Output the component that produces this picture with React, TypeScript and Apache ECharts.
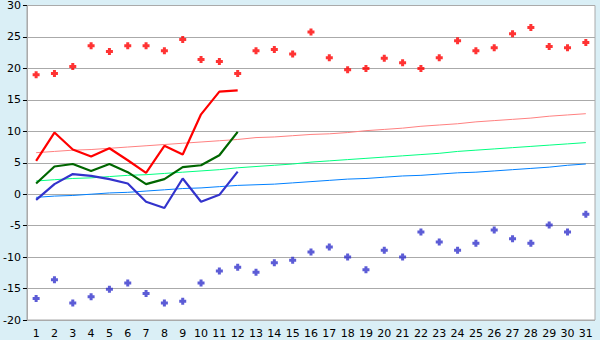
import React, { useEffect, useRef } from "react";
import * as echarts from "echarts";

const days = Array.from({ length: 31 }, (_, i) => String(i + 1));

const maxPoints = [19.0, 19.2, 20.3, 23.6, 22.7, 23.6, 23.6, 22.8, 24.6, 21.4, 21.1, 19.2, 22.8, 23.0, 22.3, 25.8, 21.7, 19.8, 20.0, 21.6, 20.9, 20.0, 21.7, 24.4, 22.8, 23.3, 25.5, 26.5, 23.5, 23.3, 24.1];
const minPoints = [-16.6, -13.6, -17.3, -16.3, -15.1, -14.1, -15.8, -17.3, -17.0, -14.1, -12.2, -11.6, -12.4, -10.9, -10.5, -9.2, -8.4, -10.0, -12.0, -8.9, -10.0, -6.0, -7.6, -8.9, -7.8, -5.7, -7.1, -7.8, -4.9, -6.0, -3.2];

const maxLine = [5.3, 9.8, 7.1, 6.0, 7.3, 5.4, 3.4, 7.7, 6.3, 12.7, 16.3, 16.5];
const meanLine = [1.7, 4.4, 4.8, 3.7, 4.8, 3.5, 1.6, 2.4, 4.3, 4.6, 6.2, 9.9];
const minLine = [-0.9, 1.6, 3.2, 2.9, 2.4, 1.7, -1.2, -2.2, 2.5, -1.2, -0.1, 3.6];

const normalMax = [6.6, 6.8, 7.0, 7.1, 7.3, 7.5, 7.7, 7.9, 8.1, 8.3, 8.5, 8.7, 9.0, 9.1, 9.3, 9.5, 9.6, 9.8, 10.1, 10.3, 10.5, 10.8, 11.0, 11.2, 11.5, 11.7, 11.9, 12.1, 12.4, 12.6, 12.8];
const normalMean = [2.1, 2.3, 2.5, 2.6, 2.8, 3.0, 3.1, 3.3, 3.5, 3.7, 3.9, 4.2, 4.4, 4.6, 4.8, 5.1, 5.3, 5.5, 5.7, 5.9, 6.1, 6.3, 6.5, 6.8, 7.0, 7.2, 7.4, 7.6, 7.8, 8.0, 8.2];
const normalMin = [-0.5, -0.3, -0.2, 0.0, 0.2, 0.3, 0.5, 0.7, 0.9, 1.0, 1.2, 1.4, 1.5, 1.6, 1.8, 2.0, 2.2, 2.4, 2.5, 2.7, 2.9, 3.0, 3.2, 3.4, 3.5, 3.7, 3.9, 4.1, 4.3, 4.6, 4.8];

const plus = "path://M2,0 L5,0 L5,2 L7,2 L7,5 L5,5 L5,7 L2,7 L2,5 L0,5 L0,2 L2,2 Z";

export default function App() {
  const ref = useRef<HTMLDivElement>(null);
  useEffect(() => {
    if (!ref.current) return;
    const chart = echarts.init(ref.current, null, { renderer: "svg" });
    const lbl = { color: "#000", fontFamily: "DejaVu Sans", fontSize: 11 };
    const line = (data: number[], color: string, width: number, z: number) => ({
      type: "line" as const,
      data,
      symbol: "none",
      lineStyle: { color, width },
      itemStyle: { color },
      z,
    });
    chart.setOption({
      animation: false,
      backgroundColor: "#DAEFF6",
      grid: {
        left: 26,
        right: 5,
        top: 5,
        bottom: 20,
        show: true,
        backgroundColor: "#ffffff",
        borderColor: "#AAAAAA",
        borderWidth: 1,
      },
      xAxis: {
        type: "category",
        data: days,
        boundaryGap: true,
        axisLine: { lineStyle: { color: "#AAAAAA" } },
        axisTick: { alignWithLabel: true, length: 5, lineStyle: { color: "#000" } },
        axisLabel: { ...lbl, margin: 8, interval: 0 },
        splitLine: { show: false },
      },
      yAxis: {
        type: "value",
        min: -20,
        max: 30,
        interval: 5,
        axisLine: { show: true, lineStyle: { color: "#AAAAAA" } },
        axisTick: { show: true, length: 4, lineStyle: { color: "#000" } },
        axisLabel: { ...lbl, margin: 6 },
        splitLine: { lineStyle: { color: "#AAAAAA", width: 1 } },
      },
      series: [
        line(normalMax, "#FF8080", 1, 2),
        line(normalMean, "#00FF80", 1, 2),
        line(normalMin, "#0080FF", 1, 2),
        line(minLine, "#3333CC", 2.2, 3),
        line(meanLine, "#006600", 2.2, 3),
        line(maxLine, "#FF0000", 2.2, 3),
        {
          type: "scatter",
          data: maxPoints,
          symbol: plus,
          symbolSize: 7,
          itemStyle: { color: "#FF0000" },
          z: 4,
        },
        {
          type: "scatter",
          data: minPoints,
          symbol: plus,
          symbolSize: 7,
          itemStyle: { color: "#3333CC" },
          z: 4,
        },
      ],
    });
    return () => chart.dispose();
  }, []);
  return (
    <div
      ref={ref}
      style={{ position: "fixed", left: 0, top: 0, width: 600, height: 340 }}
    />
  );
}
